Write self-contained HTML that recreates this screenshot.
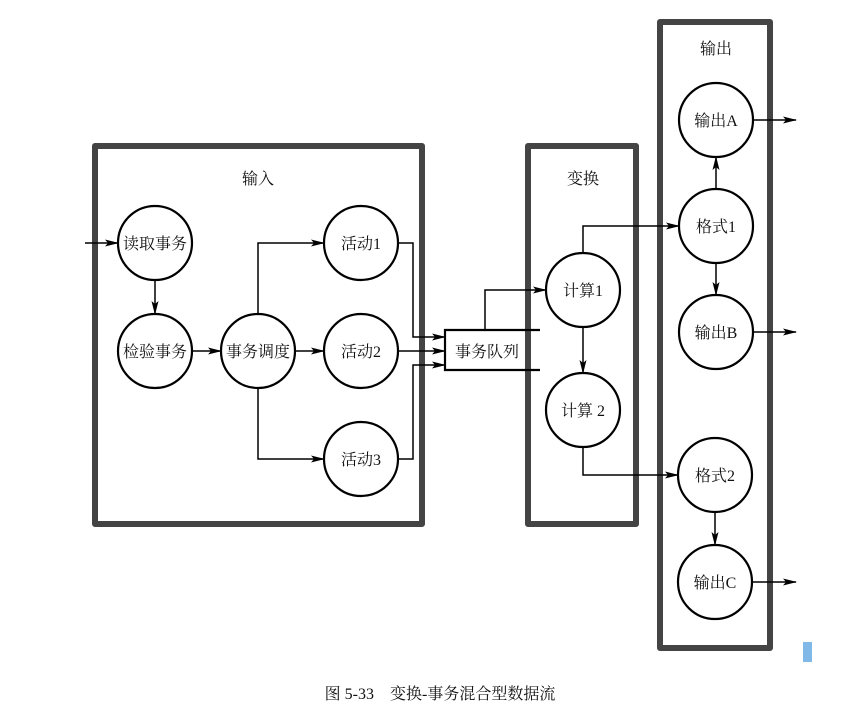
<!DOCTYPE html>
<html><head><meta charset="utf-8"><style>
html,body{margin:0;padding:0;background:#fff;}
svg{display:block;}
text{font-family:"Liberation Serif","Noto Serif CJK SC","Noto Sans CJK SC",serif;font-size:16px;fill:#111;}
</style></head><body>
<svg width="852" height="717" viewBox="0 0 852 717" xmlns="http://www.w3.org/2000/svg">
<defs>
<marker id="a" markerWidth="14" markerHeight="8" refX="13" refY="4" orient="auto" markerUnits="userSpaceOnUse">
<path d="M0,0.5 L14,4 L0,7.5 L3,4 Z" fill="#000"/></marker>
</defs>
<g fill="none" stroke="#444" stroke-width="6" stroke-linejoin="round">
<rect x="95" y="146" width="327" height="378"/>
<rect x="528" y="146" width="108" height="378"/>
<rect x="660" y="22" width="110" height="626"/>
</g>
<text x="258" y="184" text-anchor="middle">输入</text>
<text x="583" y="184" text-anchor="middle">变换</text>
<text x="716" y="54" text-anchor="middle">输出</text>
<g fill="none" stroke="#000" stroke-width="1.5">
<line x1="85" y1="243" x2="118" y2="243" marker-end="url(#a)"/>
<line x1="155" y1="280" x2="155" y2="314" marker-end="url(#a)"/>
<line x1="192" y1="351" x2="221" y2="351" marker-end="url(#a)"/>
<polyline points="258,314 258,243 324,243" marker-end="url(#a)"/>
<line x1="295" y1="351" x2="324" y2="351" marker-end="url(#a)"/>
<polyline points="258,388 258,459 324,459" marker-end="url(#a)"/>
<polyline points="398,243 413,243 413,337 445,337" marker-end="url(#a)"/>
<line x1="398" y1="351" x2="445" y2="351" marker-end="url(#a)"/>
<polyline points="398,459 413,459 413,365 445,365" marker-end="url(#a)"/>
<polyline points="485,330 485,290 546,290" marker-end="url(#a)"/>
<line x1="583" y1="327" x2="583" y2="373" marker-end="url(#a)"/>
<polyline points="583,253 583,226 679,226" marker-end="url(#a)"/>
<polyline points="583,447 583,475 678,475" marker-end="url(#a)"/>
<line x1="716" y1="189" x2="716" y2="157" marker-end="url(#a)"/>
<line x1="716" y1="263" x2="716" y2="295" marker-end="url(#a)"/>
<line x1="715" y1="512" x2="715" y2="545" marker-end="url(#a)"/>
<line x1="753" y1="120" x2="796" y2="120" marker-end="url(#a)"/>
<line x1="753" y1="332" x2="796" y2="332" marker-end="url(#a)"/>
<line x1="752" y1="582" x2="796" y2="582" marker-end="url(#a)"/>
</g>
<g fill="none" stroke="#000" stroke-width="2.2">
<polyline points="540,330 445,330 445,370 540,370"/>
</g>
<g fill="#fff" stroke="#000" stroke-width="2.2">
<circle cx="155" cy="243" r="37"/>
<circle cx="155" cy="351" r="37"/>
<circle cx="258" cy="351" r="37"/>
<circle cx="361" cy="243" r="37"/>
<circle cx="361" cy="351" r="37"/>
<circle cx="361" cy="459" r="37"/>
<circle cx="583" cy="290" r="37"/>
<circle cx="583" cy="410" r="37"/>
<circle cx="716" cy="120" r="37"/>
<circle cx="716" cy="226" r="37"/>
<circle cx="716" cy="332" r="37"/>
<circle cx="715" cy="475" r="37"/>
<circle cx="715" cy="582" r="37"/>
</g>
<g text-anchor="middle">
<text x="155" y="249">读取事务</text>
<text x="155" y="357">检验事务</text>
<text x="258" y="357">事务调度</text>
<text x="361" y="249">活动1</text>
<text x="361" y="357">活动2</text>
<text x="361" y="465">活动3</text>
<text x="487" y="357">事务队列</text>
<text x="583" y="296">计算1</text>
<text x="583" y="416">计算 2</text>
<text x="716" y="126">输出A</text>
<text x="716" y="232">格式1</text>
<text x="716" y="338">输出B</text>
<text x="715" y="481">格式2</text>
<text x="715" y="588">输出C</text>
<text x="440" y="699">图 5-33　变换-事务混合型数据流</text>
</g>
<rect x="803" y="642" width="9" height="20" fill="#80b8e8"/>
</svg>
</body></html>
